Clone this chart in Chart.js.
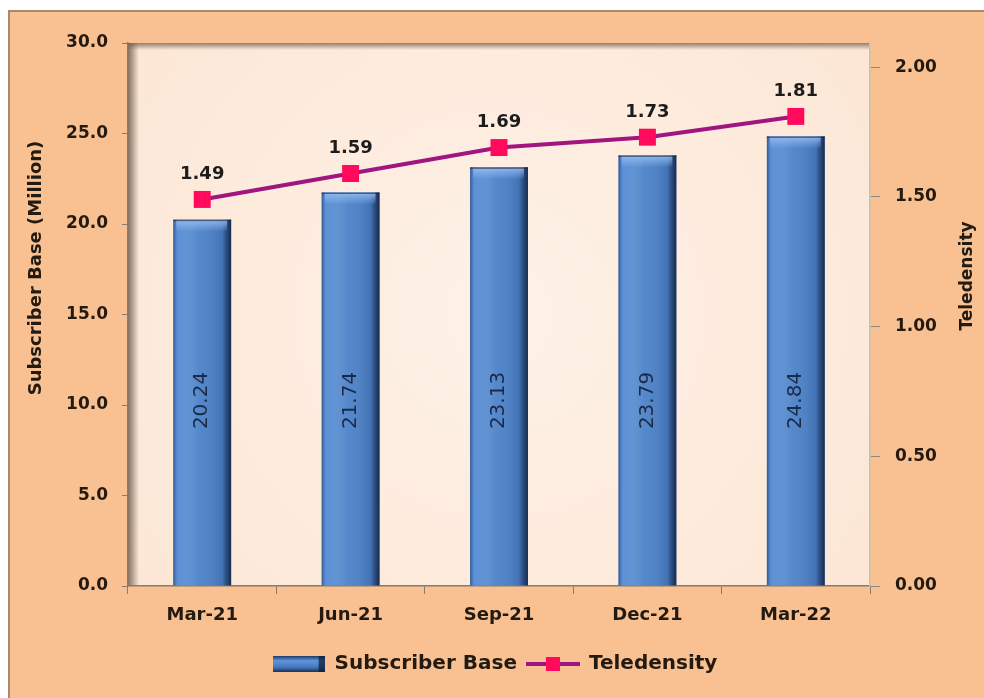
<!DOCTYPE html>
<html>
<head>
<meta charset="utf-8">
<script src="https://cdn.jsdelivr.net/npm/chart.js@4.4.1/dist/chart.umd.min.js"></script>
<style>
  html, body { margin: 0; background: #ffffff; overflow: hidden; }
  #wrap {
    position: absolute; left: 8px; top: 10px;
    width: 990px; height: 700px;
    border-top: 2px solid #a88a70; border-left: 2px solid #a88a70;
    background: #f9c191;
  }
  #mycanvas { display: block; }
</style>
</head>
<body>
<div id="wrap"><canvas id="mycanvas" width="974" height="686"></canvas></div>
<script>
// data
var quarters = ['Mar-21', 'Jun-21', 'Sep-21', 'Dec-21', 'Mar-22'];
var subscriberBase = [20.24, 21.74, 23.13, 23.79, 24.84];
var teledensity = [1.49, 1.59, 1.69, 1.73, 1.81];
var leftTicks = [0, 5, 10, 15, 20, 25, 30];
var rightTicks = [0, 0.5, 1.0, 1.5, 2.0];

var barBlue = '#4b82c9';
var lineColor = '#a0157f';
var markerColor = '#ff0a5c';
var textColor = '#231a12';

Chart.defaults.font.family = "'DejaVu Sans', sans-serif";
Chart.defaults.color = textColor;

// legend icons
function barIcon() {
  var c = document.createElement('canvas');
  c.width = 52; c.height = 16;
  var g = c.getContext('2d');
  var gr = g.createLinearGradient(0, 0, 0, 16);
  gr.addColorStop(0, '#1d3a66');
  gr.addColorStop(0.3, '#5f96e0');
  gr.addColorStop(0.7, '#4577bb');
  gr.addColorStop(1, '#1a3358');
  g.fillStyle = gr;
  g.fillRect(0, 0, 52, 16);
  g.fillStyle = 'rgba(10,25,50,0.7)';
  g.fillRect(46, 0, 6, 16);
  return c;
}
function lineIcon() {
  var c = document.createElement('canvas');
  c.width = 54; c.height = 18;
  var g = c.getContext('2d');
  g.strokeStyle = lineColor;
  g.lineWidth = 4;
  g.beginPath(); g.moveTo(0, 9); g.lineTo(54, 9); g.stroke();
  g.fillStyle = markerColor;
  g.fillRect(20, 2, 14, 14);
  return c;
}
var icons = [barIcon(), lineIcon()];

var decor = {
  id: 'decor',
  beforeDraw: function(chart) {
    var ctx = chart.ctx, a = chart.chartArea;
    ctx.save();
    var bg = ctx.createRadialGradient((a.left + a.right) / 2, (a.top + a.bottom) / 2, 50,
      (a.left + a.right) / 2, (a.top + a.bottom) / 2, 500);
    bg.addColorStop(0, '#fef0e5');
    bg.addColorStop(1, '#fce6d4');
    ctx.fillStyle = bg;
    ctx.fillRect(a.left, a.top, a.right - a.left, a.bottom - a.top);
    // 3d wall shading
    var lw = ctx.createLinearGradient(a.left, 0, a.left + 11, 0);
    lw.addColorStop(0, 'rgba(110,90,75,0.85)');
    lw.addColorStop(1, 'rgba(110,90,75,0)');
    ctx.fillStyle = lw;
    ctx.fillRect(a.left, a.top, 11, a.bottom - a.top);
    var tw = ctx.createLinearGradient(0, a.top, 0, a.top + 7);
    tw.addColorStop(0, 'rgba(110,90,75,0.75)');
    tw.addColorStop(1, 'rgba(110,90,75,0)');
    ctx.fillStyle = tw;
    ctx.fillRect(a.left, a.top, a.right - a.left, 7);
    ctx.restore();
  },
  afterDatasetDraw: function(chart, args) {
    if (args.index !== 0) return;
    var ctx = chart.ctx;
    var yL = chart.scales.y;
    ctx.save();
    args.meta.data.forEach(function(bar, i) {
      var l = bar.x - bar.width / 2, r = bar.x + bar.width / 2;
      var h = bar.base - bar.y;
      var gr = ctx.createLinearGradient(l, 0, r, 0);
      gr.addColorStop(0, 'rgba(20,40,80,0.45)');
      gr.addColorStop(0.07, 'rgba(120,170,240,0.35)');
      gr.addColorStop(0.45, 'rgba(255,255,255,0.05)');
      gr.addColorStop(0.85, 'rgba(0,0,30,0.12)');
      gr.addColorStop(0.93, 'rgba(10,25,55,0.55)');
      gr.addColorStop(1, 'rgba(10,20,45,0.8)');
      ctx.fillStyle = gr;
      ctx.fillRect(l, bar.y, r - l, h);
      var tg = ctx.createLinearGradient(0, bar.y, 0, bar.y + 12);
      tg.addColorStop(0, 'rgba(150,190,245,0.9)');
      tg.addColorStop(1, 'rgba(150,190,245,0)');
      ctx.fillStyle = tg;
      ctx.fillRect(l + 3, bar.y, r - l - 7, 12);
      ctx.fillStyle = 'rgba(20,35,60,0.6)';
      ctx.fillRect(l, bar.y, r - l, 1.5);
      // rotated value label
      ctx.save();
      ctx.translate(bar.x, yL.getPixelForValue(10.25));
      ctx.rotate(-Math.PI / 2);
      ctx.font = "20px 'DejaVu Sans'";
      ctx.fillStyle = '#1a2a48';
      ctx.textAlign = 'center';
      ctx.textBaseline = 'middle';
      ctx.fillText(subscriberBase[i].toFixed(2), 0, 0);
      ctx.restore();
    });
    ctx.restore();
  },
  afterDatasetsDraw: function(chart) {
    var ctx = chart.ctx;
    var meta = chart.getDatasetMeta(1);
    ctx.save();
    ctx.font = "bold 18px 'DejaVu Sans'";
    ctx.fillStyle = '#1c1c1c';
    ctx.textAlign = 'center';
    ctx.textBaseline = 'middle';
    meta.data.forEach(function(pt, i) {
      ctx.fillText(teledensity[i].toFixed(2), pt.x, pt.y - 25);
    });
    ctx.restore();
  },
  afterDraw: function(chart) {
    var ctx = chart.ctx;
    ctx.save();
    ctx.font = "bold 18px 'DejaVu Sans'";
    ctx.fillStyle = textColor;
    ctx.textAlign = 'center';
    ctx.textBaseline = 'middle';
    ctx.translate(26, 256);
    ctx.rotate(-Math.PI / 2);
    ctx.fillText('Subscriber Base (Million)', 0, 0);
    ctx.restore();
    ctx.save();
    ctx.font = "bold 17px 'DejaVu Sans'";
    ctx.fillStyle = textColor;
    ctx.textAlign = 'center';
    ctx.textBaseline = 'middle';
    ctx.translate(958, 264);
    ctx.rotate(-Math.PI / 2);
    ctx.fillText('Teledensity', 0, 0);
    ctx.restore();
  }
};

var ctx = document.getElementById('mycanvas');

var chart = new Chart(ctx, {
  type: 'bar',
  data: {
    labels: quarters,
    datasets: [
      {
        label: 'Subscriber Base',
        data: subscriberBase,
        backgroundColor: barBlue,
        borderWidth: 0,
        barPercentage: 0.39,
        categoryPercentage: 1,
        yAxisID: 'y',
        order: 0
      },
      {
        type: 'line',
        label: 'Teledensity',
        data: teledensity,
        borderColor: lineColor,
        borderWidth: 4,
        pointStyle: 'rect',
        pointRadius: 12,
        pointBackgroundColor: markerColor,
        pointBorderColor: markerColor,
        pointBorderWidth: 0,
        tension: 0,
        yAxisID: 'y1',
        order: -1
      }
    ]
  },
  options: {
    responsive: false,
    animation: false,
    devicePixelRatio: 1,
    layout: { padding: { left: 10, top: 31, right: 14, bottom: 14 } },
    plugins: {
      tooltip: { enabled: false },
      legend: {
        position: 'bottom',
        labels: {
          usePointStyle: true,
          pointStyleWidth: 52,
          padding: 10,
          color: textColor,
          font: { size: 20, weight: 'bold' },
          sort: function(a, b) { return a.datasetIndex - b.datasetIndex; },
          generateLabels: function(chart) {
            var items = Chart.defaults.plugins.legend.labels.generateLabels(chart);
            items.forEach(function(it) { it.pointStyle = icons[it.datasetIndex]; });
            return items;
          }
        }
      }
    },
    scales: {
      x: {
        grid: { display: true, drawOnChartArea: false, drawTicks: true, tickLength: 8, color: '#8a7a6c', offset: true },
        border: { display: true, color: '#8a7a6c', width: 1.5 },
        ticks: { font: { size: 18, weight: 'bold' }, padding: 11, color: textColor },
        afterFit: function(s) { s.height = 58; }
      },
      y: {
        position: 'left',
        min: 0, max: 30,
        afterBuildTicks: function(s) { s.ticks = leftTicks.map(function(v) { return { value: v }; }); },
        grid: { display: true, drawOnChartArea: false, drawTicks: true, tickLength: 6, color: '#8a7a6c' },
        border: { display: true, color: '#8a7a6c', width: 1.5 },
        ticks: {
          font: { size: 17, weight: 'bold' }, padding: 14, color: textColor,
          callback: function(v) { return Number(v).toFixed(1); }
        },
        afterFit: function(s) { s.width = 108; }
      },
      y1: {
        position: 'right',
        min: 0, max: 2.093,
        afterBuildTicks: function(s) { s.ticks = rightTicks.map(function(v) { return { value: v }; }); },
        grid: { display: true, drawOnChartArea: false, drawTicks: true, tickLength: 10, color: '#8a8a8a' },
        border: { display: true, color: '#c8c0b8', width: 1.5 },
        ticks: {
          font: { size: 17, weight: 'bold' }, padding: 15, color: textColor,
          callback: function(v) { return Number(v).toFixed(2); }
        },
        afterFit: function(s) { s.width = 100; }
      }
    }
  },
  plugins: [decor]
});
</script>
</body>
</html>
